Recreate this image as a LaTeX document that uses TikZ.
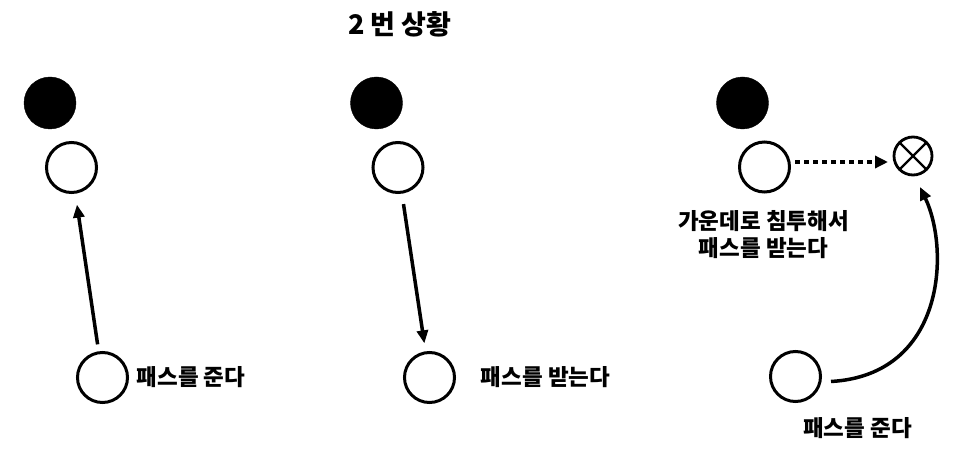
\documentclass[tikz,border=0pt]{standalone}
\usepackage{fontspec}
\setmainfont{Noto Sans CJK KR}
\usetikzlibrary{arrows.meta}
\begin{document}
\begin{tikzpicture}[x=1pt,y=-1pt,
 player/.style={circle,draw,line width=3pt,minimum size=50pt,inner sep=0pt},
 opp/.style={circle,fill=black,draw=black,minimum size=52pt,inner sep=0pt},
 target/.style={circle,draw,line width=2.8pt,minimum size=38pt,inner sep=0pt,outer sep=0pt},
 lbl/.style={font=\fontsize{22.5}{27}\selectfont\bfseries,inner sep=0pt,align=center},
 ttl/.style={font=\fontsize{27}{30}\selectfont\bfseries,inner sep=0pt},
 arr/.style={line width=3.5pt,-{Triangle[length=13pt,width=11pt]}},
 dotarr/.style={line width=4.5pt,dash pattern=on 5pt off 4pt,-{Triangle[length=13pt,width=12pt]}}]
\useasboundingbox (0,0) rectangle (961,465);
\fill[white] (0,0) rectangle (961,465);

\node[ttl] (title) at (400,24) {2 번 상황};

% panel 1
\node[opp] (o1) at (50,103) {};
\node[player] (w1) at (71.5,167.5) {};
\node[player] (b1) at (102.5,377.5) {};
\node[lbl] (l1) at (191,377) {패스를 준다};
\draw[arr,shorten <=7pt,shorten >=11pt] (b1) -- (w1);

% panel 2
\node[opp] (o2) at (376.5,103) {};
\node[player] (w2) at (398,167.5) {};
\node[player] (b2) at (429.5,377.5) {};
\node[lbl] (l2) at (545.5,377) {패스를 받는다};
\draw[arr,shorten <=10.5pt,shorten >=8pt] (w2) -- (b2);

% panel 3
\node[opp] (o3) at (742.5,103) {};
\node[player] (w3) at (764.5,167) {};
\node[target] (x3) at (913,156) {};
\draw[line width=2.2pt] (x3.north east) -- (x3.south west) (x3.north west) -- (x3.south east);
\node[lbl] (l3) at (763.5,235) {가운데로 침투해서\\패스를 받는다};
\node[player] (b3) at (795.5,376.5) {};
\node[lbl] (l4) at (857.5,428) {패스를 준다};
\draw[dotarr] ([xshift=4pt,yshift=5pt]w3.east) -- ([xshift=-6pt,yshift=-6pt]x3.west);
\draw[arr] ([xshift=9pt,yshift=-5pt]b3.east) .. controls (945,375) and (950,250) .. ([xshift=7pt,yshift=-12pt]x3.south);
\end{tikzpicture}
\end{document}
